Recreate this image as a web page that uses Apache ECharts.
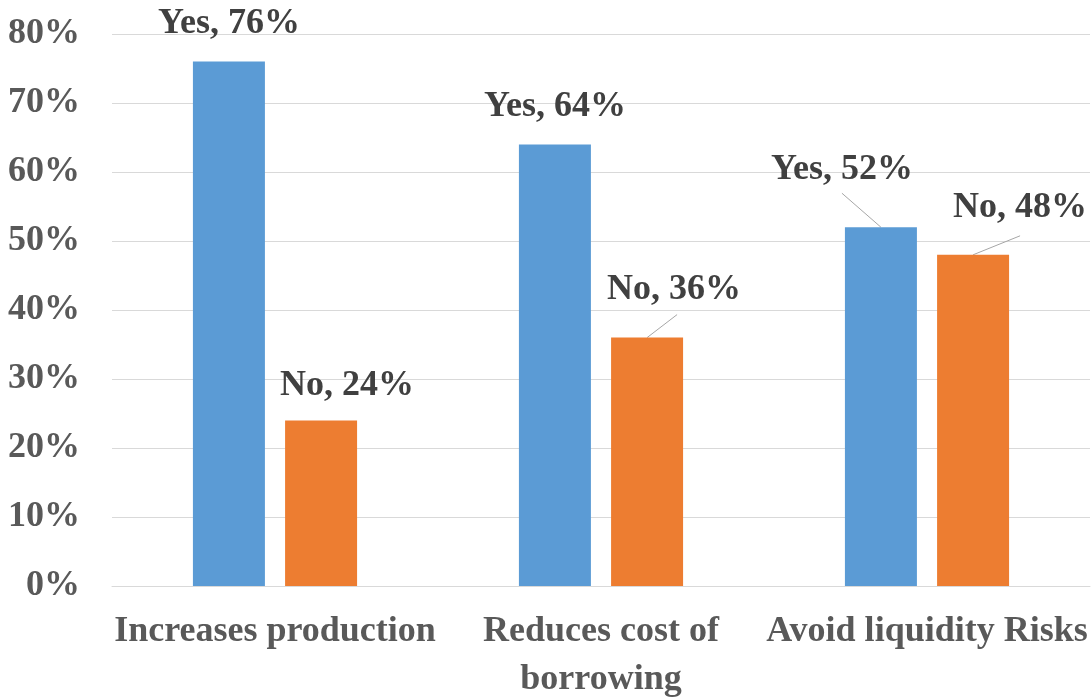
<!DOCTYPE html>
<html>
<head>
<meta charset="utf-8">
<script src="https://cdn.jsdelivr.net/npm/echarts@6/dist/echarts.min.js"></script>
<style>
  html, body { margin: 0; padding: 0; background: #fff; }
  #main { width: 1092px; height: 700px; }
</style>
</head>
<body>
<div id="main"></div>
<script>
// categories and values (percent)
var categories = ["Increases production", "Reduces cost of\nborrowing", "Avoid liquidity Risks"];
var yesValues = [76, 64, 52];
var noValues = [24, 36, 48];
var yTicks = [0, 10, 20, 30, 40, 50, 60, 70, 80];

// label nudges (px) per series / data index
var labelShift = [
  [[0, 0], [0, 0], [-39, -19]],
  [[26, 3], [27, -10], [47, -9]]
];
// leader line vector from bar top centre (null = no line)
var leader = [
  [null, null, [-39, -34]],
  [null, [30, -23], [47, -19]]
];

var font = "'Liberation Serif', 'Times New Roman', serif";

var chart = echarts.init(document.getElementById("main"));
var option = {
  animation: false,
  grid: { left: 112, right: 2, top: 34, bottom: 114, outerBoundsMode: "none" },
  xAxis: {
    type: "category",
    data: categories,
    axisLine: { lineStyle: { color: "#d9d9d9" } },
    axisTick: { show: false },
    axisLabel: {
      color: "#595959",
      fontFamily: font,
      fontWeight: "bold",
      fontSize: 36,
      lineHeight: 48,
      margin: 22,
      interval: 0,
    },
  },
  yAxis: {
    type: "value",
    min: yTicks[0],
    max: yTicks[yTicks.length - 1],
    interval: 10,
    axisLine: { show: false },
    axisTick: { show: false },
    splitLine: { lineStyle: { color: "#d9d9d9" } },
    axisLabel: {
      formatter: "{value}%",
      color: "#595959",
      fontFamily: font,
      fontWeight: "bold",
      fontSize: 36,
      margin: 32,
    },
  },
  series: [
    {
      name: "Yes",
      type: "bar",
      barWidth: 72,
      barGap: "28%",
      itemStyle: { color: "#5b9bd5" },
      label: {
        show: true,
        position: "top",
        distance: 20,
        formatter: "{a}, {c}%",
        color: "#404040",
        fontFamily: font,
        fontWeight: "bold",
        fontSize: 36,
      },
      data: yesValues,
    },
    {
      name: "No",
      type: "bar",
      barWidth: 72,
      barGap: "28%",
      itemStyle: { color: "#ed7d31" },
      label: {
        show: true,
        position: "top",
        distance: 20,
        formatter: "{a}, {c}%",
        color: "#404040",
        fontFamily: font,
        fontWeight: "bold",
        fontSize: 36,
      },
      data: noValues,
    },
  ],
  labelLayout: function (params) {
    var d = labelShift[params.seriesIndex][params.dataIndex];
    return { dx: d[0], dy: d[1] };
  },
};
option && chart.setOption(option);

// leader lines from the bar tops, using the bar layout from the chart
var lines = [];
for (var s = 0; s < leader.length; s++) {
  var data = chart.getModel().getSeriesByIndex(s).getData();
  for (var i = 0; i < leader[s].length; i++) {
    if (!leader[s][i]) continue;
    var lay = data.getItemLayout(i);
    var x = lay.x + lay.width / 2;
    var y = Math.min(lay.y, lay.y + lay.height);
    lines.push({
      type: "line",
      silent: true,
      shape: { x1: x, y1: y, x2: x + leader[s][i][0], y2: y + leader[s][i][1] },
      style: { stroke: "#a6a6a6", lineWidth: 1 },
    });
  }
}
chart.setOption({ graphic: lines });
</script>
</body>
</html>
